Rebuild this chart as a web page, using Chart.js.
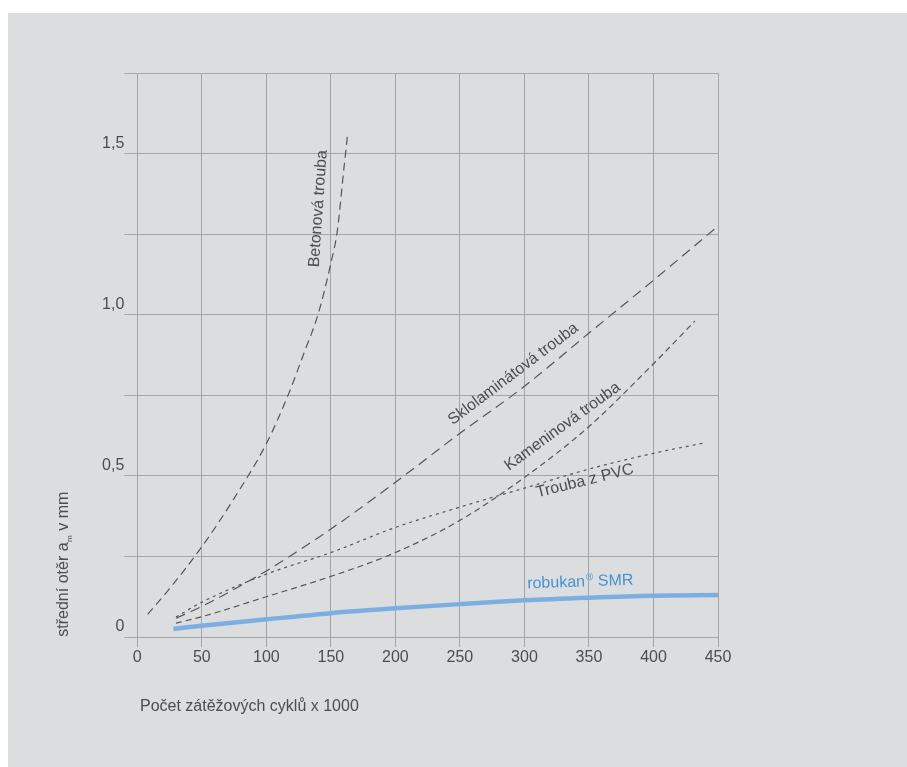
<!DOCTYPE html>
<html>
<head>
<meta charset="utf-8">
<script src="https://cdn.jsdelivr.net/npm/chart.js@4.4.1/dist/chart.umd.min.js"></script>
<style>
  body { margin: 0; background: #ffffff; }
  #panel { position: absolute; left: 8px; top: 13px; width: 899px; height: 754px; background: #dcdddf; }
  #wrap { position: absolute; left: 0; top: 0; width: 907px; height: 767px; }
</style>
</head>
<body>
<div id="panel"></div>
<div id="wrap"><canvas id="chart-wear" width="907" height="767"></canvas></div>
<script>
// x axis: load cycles x 1000
const xTicks = [0, 50, 100, 150, 200, 250, 300, 350, 400, 450];
const yLabelValues = [0, 0.5, 1, 1.5];
const yLabelTexts = ["0", "0,5", "1,0", "1,5"];

const betonX = [8, 25, 50, 75, 100, 117, 130, 140, 150, 155, 160, 163];
const betonY = [0.07, 0.15, 0.28, 0.43, 0.6, 0.752, 0.89, 1.0, 1.16, 1.26, 1.45, 1.56];

const skloX = [30, 50, 75, 100, 150, 200, 250, 300, 350, 400, 450];
const skloY = [0.058, 0.095, 0.148, 0.205, 0.335, 0.48, 0.632, 0.778, 0.943, 1.107, 1.275];

const kamenX = [30, 50, 100, 150, 200, 250, 300, 350, 400, 432];
const kamenY = [0.043, 0.063, 0.125, 0.188, 0.262, 0.362, 0.495, 0.653, 0.848, 0.98];

const pvcX = [30, 50, 100, 150, 200, 250, 300, 350, 400, 438];
const pvcY = [0.062, 0.108, 0.195, 0.262, 0.34, 0.403, 0.462, 0.521, 0.57, 0.601];

const robukanX = [28, 50, 100, 150, 200, 250, 300, 350, 400, 450];
const robukanY = [0.025, 0.035, 0.055, 0.074, 0.089, 0.102, 0.114, 0.122, 0.128, 0.13];

// curve captions, placed in data units
const curveLabels = ["Betonová trouba", "Sklolaminátová trouba", "Kameninová trouba", "Trouba z PVC"];
const curveLabelX = [140.3, 291.4, 329.5, 346.8];
const curveLabelY = [1.329, 0.816, 0.653, 0.484];
const curveLabelAngle = [-86, -37, -36, -14];

const gridColor = "#a4a5a7";
const textColor = "#4d4d4d";
const lineColor = "#555555";
const blue = "#7daee2";
const FONT = "'Liberation Sans', Arial, sans-serif";

const toPoints = (xs, ys) => xs.map((x, i) => ({ x: x, y: ys[i] }));

const lineStyle = (data, dash, width, color) => ({
    data: data,
    borderColor: color,
    borderWidth: width,
    borderDash: dash,
    pointRadius: 0,
    fill: false,
    cubicInterpolationMode: "monotone",
});

const labelPlugin = {
    id: "curveLabels",
    afterDatasetsDraw(chart) {
        const ctx = chart.ctx;
        const xs = chart.scales.x;
        const ys = chart.scales.y;
        ctx.save();
        ctx.font = "16px " + FONT;
        ctx.fillStyle = textColor;
        ctx.textAlign = "center";
        ctx.textBaseline = "middle";
        curveLabels.forEach((txt, i) => {
            ctx.save();
            ctx.translate(xs.getPixelForValue(curveLabelX[i]), ys.getPixelForValue(curveLabelY[i]));
            ctx.rotate((curveLabelAngle[i] * Math.PI) / 180);
            ctx.fillText(txt, 0, 0);
            ctx.restore();
        });

        // robukan caption in blue with registered mark
        ctx.save();
        ctx.translate(xs.getPixelForValue(302.3), ys.getPixelForValue(0.151));
        ctx.rotate((-2 * Math.PI) / 180);
        ctx.fillStyle = "#4592d4";
        ctx.textAlign = "left";
        ctx.textBaseline = "alphabetic";
        ctx.font = "16px " + FONT;
        ctx.fillText("robukan", 0, 0);
        let w = ctx.measureText("robukan").width;
        ctx.font = "10px " + FONT;
        ctx.fillText("®", w + 1, -6);
        w += ctx.measureText("®").width + 1;
        ctx.font = "16px " + FONT;
        ctx.fillText(" SMR", w, 0);
        ctx.restore();

        // axis titles
        ctx.fillStyle = textColor;
        ctx.textAlign = "left";
        ctx.textBaseline = "alphabetic";
        ctx.font = "16px " + FONT;
        ctx.fillText("Počet zátěžových cyklů x 1000", 140, 711);

        ctx.save();
        ctx.translate(67.5, 636.7);
        ctx.rotate(-Math.PI / 2);
        ctx.fillText("střední otěr a", 0, 0);
        let tw = ctx.measureText("střední otěr a").width;
        ctx.font = "8px " + FONT;
        ctx.fillText("m", tw + 0.5, 4);
        tw += ctx.measureText("m").width + 0.5;
        ctx.font = "16px " + FONT;
        ctx.fillText(" v mm", tw, 0);
        ctx.restore();
        ctx.restore();
    },
};

const ctx = document.getElementById("chart-wear").getContext("2d");
new Chart(ctx, {
    type: "line",
    data: {
        datasets: [
            lineStyle(toPoints(betonX, betonY), [8, 5], 1.2, lineColor),
            lineStyle(toPoints(skloX, skloY), [10, 6], 1.2, lineColor),
            lineStyle(toPoints(kamenX, kamenY), [6, 4], 1.2, lineColor),
            lineStyle(toPoints(pvcX, pvcY), [3, 4], 1.2, lineColor),
            lineStyle(toPoints(robukanX, robukanY), [], 4.5, blue),
        ],
    },
    options: {
        responsive: false,
        animation: false,
        layout: { padding: { top: 73, right: 189, left: 0, bottom: 0 } },
        plugins: {
            legend: { display: false },
            tooltip: { enabled: false },
        },
        scales: {
            x: {
                type: "linear",
                min: 0,
                max: 450,
                afterFit: (s) => { s.height = 130; },
                afterBuildTicks: (s) => { s.ticks = xTicks.map((v) => ({ value: v })); },
                grid: { color: gridColor, tickLength: 10, lineWidth: 1 },
                border: { color: gridColor },
                ticks: {
                    color: textColor,
                    font: { family: FONT, size: 16 },
                    padding: 1,
                    maxRotation: 0,
                    callback: (v) => String(v),
                },
            },
            y: {
                type: "linear",
                min: 0,
                max: 1.75,
                afterFit: (s) => { s.width = 137.3; },
                grid: { color: gridColor, tickLength: 13, lineWidth: 1 },
                border: { color: gridColor },
                ticks: {
                    stepSize: 0.25,
                    color: textColor,
                    font: { family: FONT, size: 16 },
                    padding: 0,
                    labelOffset: -10,
                    callback: (v) => {
                        const i = yLabelValues.findIndex((t) => Math.abs(t - v) < 1e-6);
                        return i >= 0 ? yLabelTexts[i] : "";
                    },
                },
            },
        },
    },
    plugins: [labelPlugin],
});
</script>
</body>
</html>
